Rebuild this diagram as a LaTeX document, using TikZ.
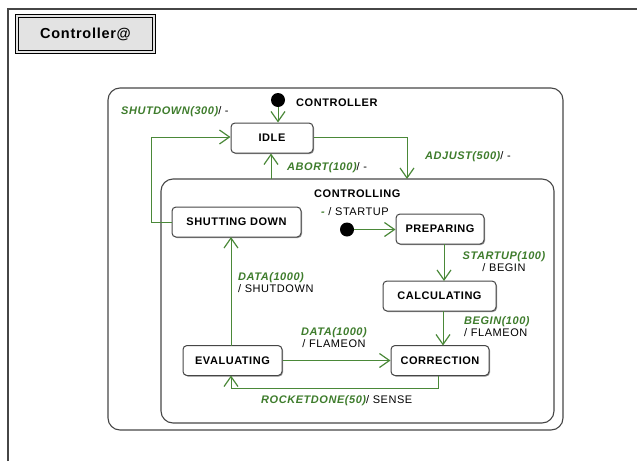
\documentclass[tikz,border=0pt]{standalone}
\usepackage{fontspec}
\setmainfont{Liberation Sans}[LetterSpace=5]
\usetikzlibrary{arrows.meta,shadows}
\definecolor{trgreen}{RGB}{62,124,44}
\definecolor{linegreen}{RGB}{74,136,56}
\definecolor{edgegray}{RGB}{70,70,70}
\newcommand{\trig}[1]{\textcolor{trgreen}{\bfseries\itshape #1}}
\begin{document}
\begin{tikzpicture}[x=1pt,y=-1pt,
  font=\fontsize{11}{13}\selectfont,
  statebox/.style={draw=edgegray,line width=1pt,rounded corners=4pt,fill=white,
    minimum height=30pt,inner sep=0pt,font=\fontsize{11}{13}\selectfont\bfseries,
    drop shadow={shadow xshift=1pt,shadow yshift=-1pt,fill=gray,opacity=0.8}},
  composite/.style={draw=edgegray,line width=1.1pt,rounded corners=12pt},
  initdot/.style={circle,fill=black,inner sep=0pt,minimum size=14pt},
  trans/.style={draw=linegreen,line width=1pt,
    -{Straight Barb[length=10pt,width=14pt,line width=1.2pt]}},
  lbl/.style={inner sep=0pt,anchor=west}]
\useasboundingbox (0,0) rectangle (637,461);

% page frame
\draw[edgegray,line width=1.1pt] (8,461) -- (8,9) -- (637,9);

% title tab
\node[draw=black,line width=0.8pt,fill=gray!22,minimum width=137pt,minimum height=36pt,
      double=gray!22,double distance=1.6pt,inner sep=0pt,
      font=\fontsize{14.5}{16}\selectfont\bfseries] (title) at (85.5,34) {Controller@};

% composite states
\draw[composite] (108,88) rectangle (563,430);
\draw[composite] (161,179) rectangle (554,423);
\coordinate (ctrltopL) at (271,179);
\coordinate (ctrltopR) at (407,179);

% simple states
\node[statebox,minimum width=82pt]  (idle) at (272,138) {IDLE};
\node[statebox,minimum width=129pt] (shut) at (236.5,222) {SHUTTING DOWN};
\node[statebox,minimum width=88pt]  (prep) at (440,229) {PREPARING};
\node[statebox,minimum width=113pt] (calc) at (439.5,296) {CALCULATING};
\node[statebox,minimum width=98pt]  (corr) at (440,360.5) {CORRECTION};
\node[statebox,minimum width=99pt]  (eval) at (232.5,360.5) {EVALUATING};

% initial pseudostates
\node[initdot] (init1) at (278,100) {};
\node[initdot] (init2) at (347,229.5) {};

% state labels
\node[lbl,font=\fontsize{11}{13}\selectfont\bfseries] (ctrlname) at (296,103) {CONTROLLER};
\node[lbl,font=\fontsize{11}{13}\selectfont\bfseries] (ctrlingname) at (314,194) {CONTROLLING};

% transitions
\draw[trans] (init1) -- (init1 |- idle.north);
\draw[trans] (shut.west) -- (151,222) -- (151,137) -- (idle.west |- 0,137);
\draw[trans] (ctrltopL) -- (ctrltopL |- idle.south);
\draw[trans] (idle.east |- 0,137) -- (407,137) -- (ctrltopR);
\draw[trans] (init2) -- (prep.west |- init2);
\draw[trans] (444,244) -- (444,281);
\draw[trans] (443,311) -- (443,345.5);
\draw[trans] (eval.east) -- (corr.west);
\draw[trans] (231,345.5) -- (231,237);
\draw[trans] (438,375.5) -- (438,388) -- (231,388) -- (231,375.5);

% transition labels
\node[lbl] (l1) at (121,112) {\trig{SHUTDOWN(300)}/ -};
\node[lbl] (l2) at (287,168) {\trig{ABORT(100)}/ -};
\node[lbl] (l3) at (425,157) {\trig{ADJUST(500)}/ -};
\node[lbl] (l4) at (321,212) {\trig{-} / STARTUP};
\node[inner sep=0pt,align=left,anchor=north west,font=\fontsize{11}{12.8}\selectfont] (l5) at (238,272)
  {\trig{DATA(1000)}\\/ SHUTDOWN};
\node[inner sep=0pt,align=center,anchor=north,font=\fontsize{11}{12.8}\selectfont] (l6) at (504,251)
  {\trig{STARTUP(100)}\\/ BEGIN};
\node[inner sep=0pt,align=left,anchor=north west,font=\fontsize{11}{12.8}\selectfont] (l7) at (464,316)
  {\trig{BEGIN(100)}\\/ FLAMEON};
\node[inner sep=0pt,align=center,anchor=north,font=\fontsize{11}{12.8}\selectfont] (l8) at (334,327)
  {\trig{DATA(1000)}\\/ FLAMEON};
\node[lbl] (l9) at (261,401) {\trig{ROCKETDONE(50)}/ SENSE};
\end{tikzpicture}
\end{document}
